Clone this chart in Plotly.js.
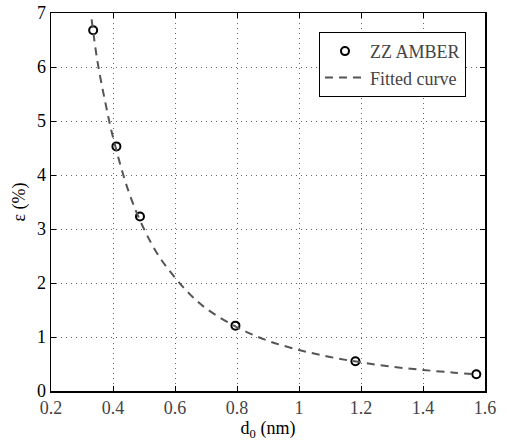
<!DOCTYPE html>
<html>
<head>
<meta charset="utf-8">
<script src="https://cdn.plot.ly/plotly-3.0.1.min.js"></script>
<style>html,body{margin:0;padding:0;background:#fff;}#chart{width:507px;height:443px;}</style>
</head>
<body>
<div id="chart"></div>
<script>
// Simulation data points (ZZ AMBER)
const pointX = [0.336, 0.411, 0.487, 0.795, 1.182, 1.572];
const pointY = [6.68, 4.53, 3.23, 1.21, 0.55, 0.31];

// Fitted curve, values
const curveX = [0.331, 0.35, 0.375, 0.4, 0.45, 0.5, 0.55, 0.6, 0.65, 0.7, 0.8, 0.9, 1.0, 1.1, 1.2, 1.3, 1.4, 1.5, 1.572];
const curveY = [6.88, 6.1, 5.35, 4.7, 3.7, 3.0, 2.48, 2.1, 1.78, 1.53, 1.18, 0.93, 0.76, 0.63, 0.53, 0.45, 0.39, 0.34, 0.31];

const seriesNames = ["ZZ AMBER", "Fitted curve"];
const xTicks = [0.2, 0.4, 0.6, 0.8, 1, 1.2, 1.4, 1.6];
const xTickText = ["0.2", "0.4", "0.6", "0.8", "1", "1.2", "1.4", "1.6"];
const yTicks = [0, 1, 2, 3, 4, 5, 6, 7];

const traces = [
  {
    x: pointX, y: pointY, name: seriesNames[0], type: "scatter", mode: "markers",
    marker: {symbol: "circle-open", size: 8, color: "#000", line: {width: 2, color: "#000"}}
  },
  {
    x: curveX, y: curveY, name: seriesNames[1], type: "scatter", mode: "lines",
    line: {color: "#555", width: 2, dash: "8px,6px", shape: "spline"}
  }
];

const layout = {
  width: 507, height: 443,
  margin: {l: 51, r: 22, t: 13, b: 52},
  paper_bgcolor: "#fff", plot_bgcolor: "#fff",
  showlegend: true,
  legend: {
    x: 0.6175, y: 0.95, xanchor: "left", yanchor: "top",
    bgcolor: "#fff", bordercolor: "#000", borderwidth: 1,
    font: {family: "Liberation Serif", size: 18}, itemwidth: 40, tracegroupgap: 0
  },
  xaxis: {
    showline: true, linecolor: "#000", linewidth: 1.5, mirror: "allticks",
    ticks: "inside", ticklen: 5, tickcolor: "#000", tickwidth: 1,
    showgrid: true, gridcolor: "#666", griddash: "1px,4px", gridwidth: 1,
    zeroline: false, tickfont: {family: "Liberation Serif", size: 18},
    range: [0.2, 1.6], tickvals: xTicks, ticktext: xTickText,
    title: {text: "d<sub>0</sub> (nm)", font: {family: "Liberation Serif", size: 18, color: "#000"}, standoff: 2}
  },
  yaxis: {
    showline: true, linecolor: "#000", linewidth: 1.5, mirror: "allticks",
    ticks: "inside", ticklen: 5, tickcolor: "#000", tickwidth: 1,
    showgrid: true, gridcolor: "#666", griddash: "1px,4px", gridwidth: 1,
    zeroline: false, tickfont: {family: "Liberation Serif", size: 18, color: "#000"},
    range: [0, 7], tickvals: yTicks,
    title: {text: "ε (%)", font: {family: "Liberation Serif", size: 18, color: "#000"}, standoff: 6}
  }
};

Plotly.newPlot("chart", traces, layout, {displayModeBar: false, staticPlot: true});
</script>
</body>
</html>
